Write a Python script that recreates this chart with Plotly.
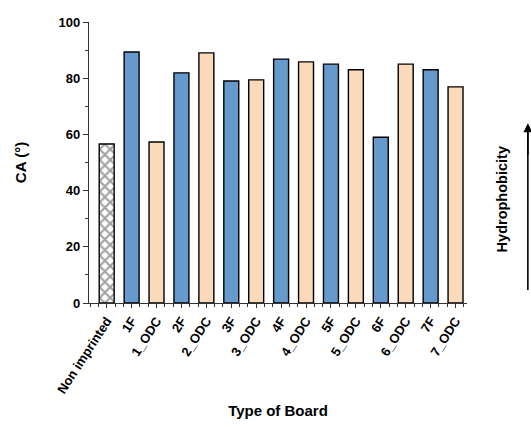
import plotly.graph_objects as go

categories = ["Non imprinted", "1F", "1_ODC", "2F", "2_ODC", "3F", "3_ODC", "4F", "4_ODC",
              "5F", "5_ODC", "6F", "6_ODC", "7F", "7_ODC"]
ca_values = [56.6, 89.3, 57.3, 81.9, 89.0, 79.0, 79.4, 86.8, 85.8, 85.0, 83.0, 59.0, 85.0, 83.0, 76.9]
y_ticks = [0, 20, 40, 60, 80, 100]

BLUE = "#6699CC"
PEACH = "#FBD9BB"
FONT = "Arial, Liberation Sans, sans-serif"

xpos = list(range(len(categories)))
colors = []
patterns = []
for c in categories:
    if c == "Non imprinted":
        colors.append("white")
        patterns.append("x")
    elif c.endswith("F"):
        colors.append(BLUE)
        patterns.append("")
    else:
        colors.append(PEACH)
        patterns.append("")

fig = go.Figure()
fig.add_trace(go.Bar(
    x=xpos, y=ca_values, width=0.6,
    marker=dict(color=colors, line=dict(color="black", width=1.4),
                pattern=dict(shape=patterns, fgcolor="black", bgcolor="white",
                             size=7.5, solidity=0.5, fillmode="overlay")),
    showlegend=False,
))

fig.update_layout(
    width=531, height=427,
    margin=dict(l=89, r=64, t=22, b=124),
    paper_bgcolor="white", plot_bgcolor="white",
    font=dict(family=FONT, color="black"),
    bargap=0.4,
)
fig.update_xaxes(
    automargin=False,
    range=[-0.71, 14.46], tickmode="array", tickvals=xpos, ticktext=categories,
    tickangle=-57, tickfont=dict(size=13, family=FONT, weight="bold"),
    showline=True, linecolor="#333333", linewidth=1.3, ticks="outside",
    ticklen=4, tickwidth=1, tickcolor="#333333", showgrid=False, zeroline=False,
    minor=dict(ticks="outside", ticklen=3, tickcolor="#333333", tick0=0, dtick=1/3, showgrid=False),
    title=dict(text="Type of Board", font=dict(size=15, family=FONT, weight="bold"), standoff=10),
)
fig.update_yaxes(
    automargin=False,
    range=[0, 100], tickmode="array", tickvals=y_ticks,
    tickfont=dict(size=13, family=FONT, weight="bold"),
    showline=True, linecolor="#333333", linewidth=1.3, ticks="outside",
    ticklen=5, tickwidth=1.2, tickcolor="#333333", showgrid=False, zeroline=False,
    minor=dict(ticks="outside", ticklen=3, tickcolor="#333333", dtick=10, showgrid=False),
    title=dict(text="CA (°)", font=dict(size=15, family=FONT, weight="bold"), standoff=28),
)

fig.add_annotation(
    xref="paper", yref="paper", x=1.12, y=0.37, text="<b>Hydrophobicity</b>",
    textangle=-90, showarrow=False, font=dict(size=14.5, family=FONT, color="black"),
)
fig.add_shape(
    type="line", xref="paper", yref="paper", x0=1.161, x1=1.161, y0=0.046, y1=0.62,
    line=dict(color="black", width=1.6),
)
fig.add_annotation(
    xref="paper", yref="paper", x=1.161, y=0.64, text=" ", showarrow=True,
    ax=0, ay=40, arrowhead=2, arrowsize=1.2, arrowwidth=1.5, arrowcolor="black",
)

fig.write_html("out.html", config={"displayModeBar": False},
               post_script="document.body.style.margin='0';document.body.style.overflow='hidden';")
